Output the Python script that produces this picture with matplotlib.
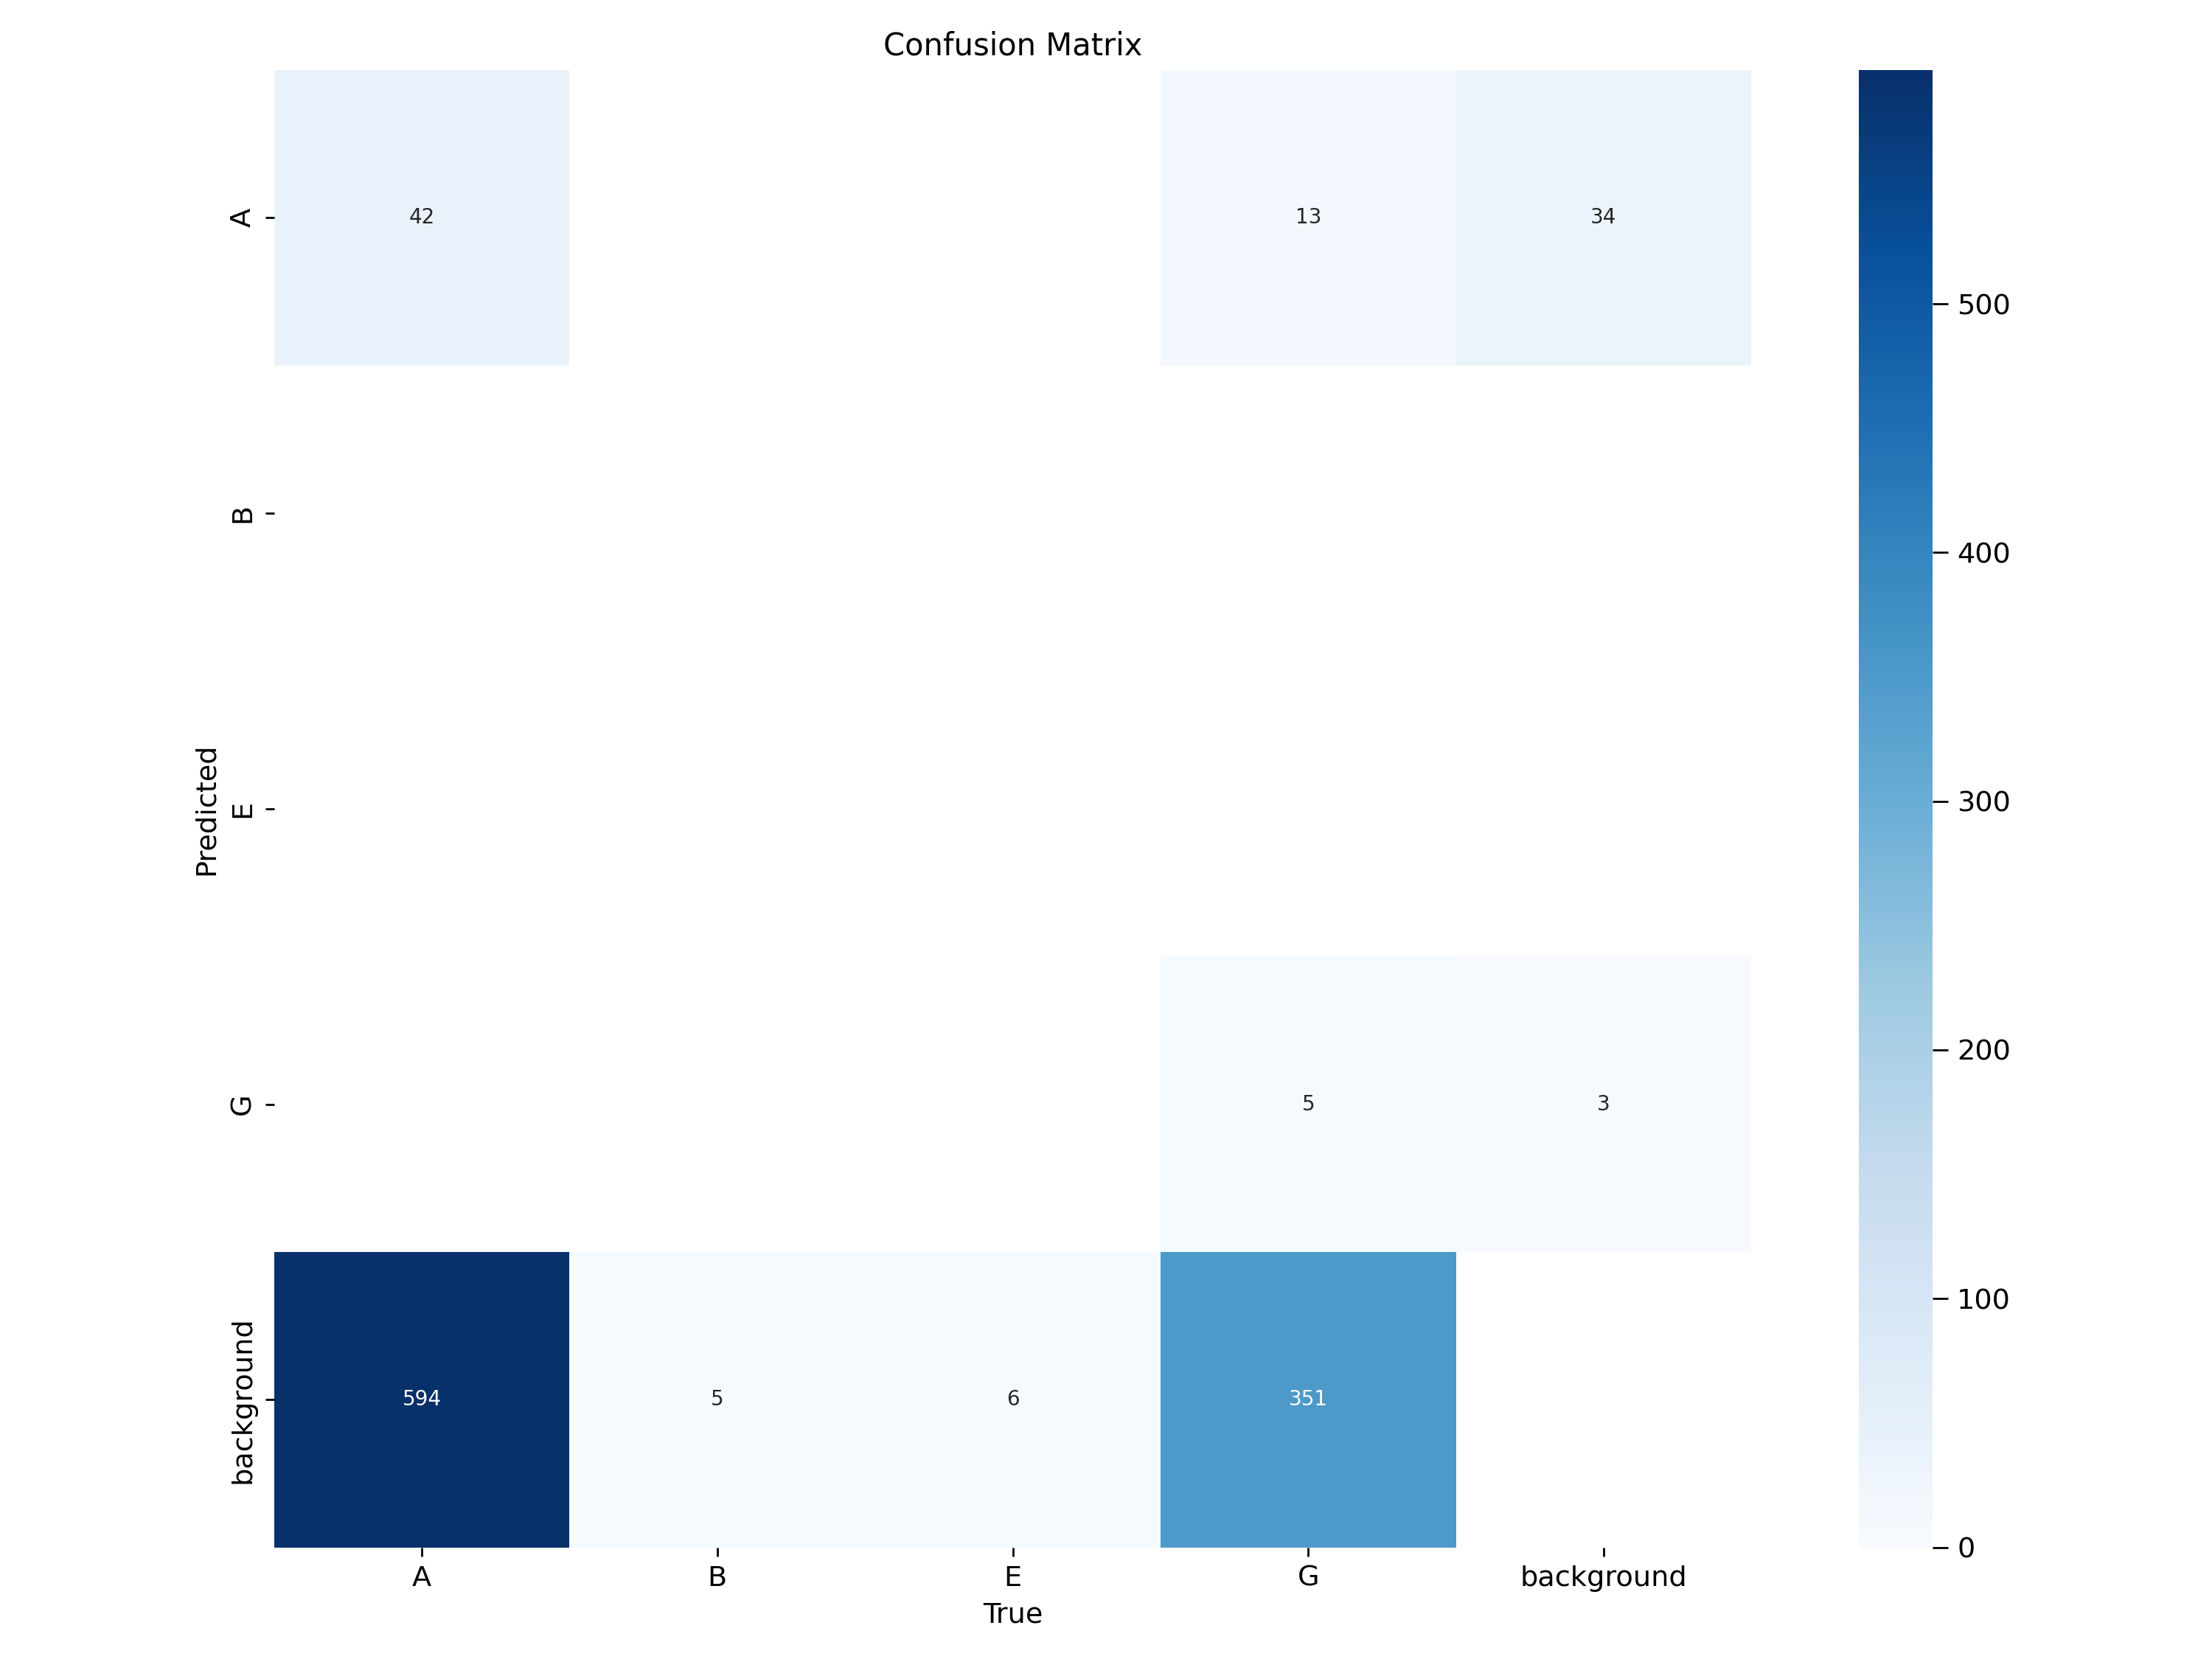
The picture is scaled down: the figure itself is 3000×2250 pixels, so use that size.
import numpy as np
import matplotlib
matplotlib.use("Agg")
import matplotlib.pyplot as plt
import seaborn as sns

true_labels = ["A", "B", "E", "G", "background"]
pred_labels = ["A", "B", "E", "G", "background"]

# rows = Predicted, cols = True; np.nan = empty cell
row_A = [42, np.nan, np.nan, 13, 34]
row_B = [np.nan, np.nan, np.nan, np.nan, np.nan]
row_E = [np.nan, np.nan, np.nan, np.nan, np.nan]
row_G = [np.nan, np.nan, np.nan, 5, 3]
row_bg = [594, 5, 6, 351, np.nan]

matrix = np.array([row_A, row_B, row_E, row_G, row_bg], dtype=float)

plt.rcParams.update({
    "font.size": 11,
    "xtick.labelsize": 11,
    "ytick.labelsize": 11,
    "axes.labelsize": 11,
    "axes.titlesize": 12,
})

fig, ax = plt.subplots(1, 1, figsize=(12, 9), tight_layout=True)
hm = sns.heatmap(matrix, ax=ax, annot=True, annot_kws={"size": 8}, cmap="Blues",
                 fmt=".0f", square=True, vmin=0.0,
                 xticklabels=true_labels, yticklabels=pred_labels)
hm.set_facecolor((1, 1, 1))
cbar = hm.collections[0].colorbar
cbar.ax.tick_params(length=6, width=0.8)
ax.set_xlabel("True")
ax.set_ylabel("Predicted")
ax.set_title("Confusion Matrix")
fig.savefig("out.png", dpi=250)
